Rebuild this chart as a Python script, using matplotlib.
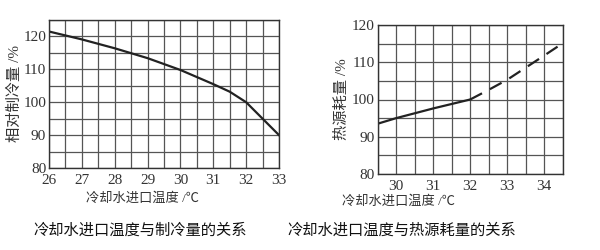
import matplotlib.pyplot as plt
import numpy as np

plt.rcParams['font.family'] = ['Liberation Serif', 'Noto Sans CJK SC']

# left chart: cooling water inlet temp vs relative cooling capacity
temp_left = [26, 27, 28, 29, 30, 31, 31.5, 32, 32.5, 33]
capacity = [121.5, 119.1, 116.4, 113.4, 109.8, 105.5, 103.2, 100.0, 95.0, 90.0]

# right chart: cooling water inlet temp vs heat source consumption
temp_solid = [29.5, 30, 31, 32]
consume_solid = [93.5, 95.0, 97.6, 100.0]
temp_dash = [32, 32.5, 33, 34, 34.5]
consume_dash = [100.0, 102.6, 105.3, 111.8, 115.1]

line_c = '#222222'
grid_c = '#555555'
text_c = '#333333'

fig = plt.figure(figsize=(6, 2.5), dpi=100)

ax1 = fig.add_axes([0.0817, 0.328, 0.3833, 0.592])
ax1.plot(temp_left, capacity, color=line_c, lw=1.6)
ax1.set_xlim(26, 33)
ax1.set_ylim(80, 125)
ax1.set_xticks(np.arange(26, 34, 1))
ax1.set_yticks([80, 90, 100, 110, 120])
ax1.set_xticks(np.arange(26, 33.01, 0.5), minor=True)
ax1.set_yticks(np.arange(80, 125.01, 5), minor=True)
ax1.set_ylabel('相对制冷量 /%', fontsize=11, color=text_c, labelpad=1)

ax2 = fig.add_axes([0.6295, 0.304, 0.3083, 0.596])
ax2.plot(temp_solid, consume_solid, color=line_c, lw=1.6)
ax2.plot(temp_dash, consume_dash, color=line_c, lw=1.6, dashes=(6, 4))
ax2.set_xlim(29.5, 34.5)
ax2.set_ylim(80, 120)
ax2.set_xticks([30, 31, 32, 33, 34])
ax2.set_yticks([80, 90, 100, 110, 120])
ax2.set_xticks(np.arange(29.5, 34.51, 0.5), minor=True)
ax2.set_yticks(np.arange(80, 120.01, 5), minor=True)
ax2.set_ylabel('热源耗量 /%', fontsize=11, color=text_c, labelpad=2)

for ax in (ax1, ax2):
    ax.grid(which='both', color=grid_c, lw=0.9)
    ax.tick_params(which='both', length=0, labelsize=11, colors=text_c)
    ax.tick_params(axis='x', pad=4)
    ax.tick_params(axis='y', pad=2)
    for s in ax.spines.values():
        s.set_color('#333333')
        s.set_linewidth(1.0)

fig.text(0.237, 0.205, '冷却水进口温度 /℃', fontsize=9.5, color=text_c, ha='center', va='center')
fig.text(0.665, 0.195, '冷却水进口温度 /℃', fontsize=9.5, color=text_c, ha='center', va='center')
fig.text(0.233, 0.08, '冷却水进口温度与制冷量的关系', fontsize=11, color='#111111', ha='center', va='center')
fig.text(0.67, 0.08, '冷却水进口温度与热源耗量的关系', fontsize=11, color='#111111', ha='center', va='center')

fig.savefig('out.png', dpi=100)
